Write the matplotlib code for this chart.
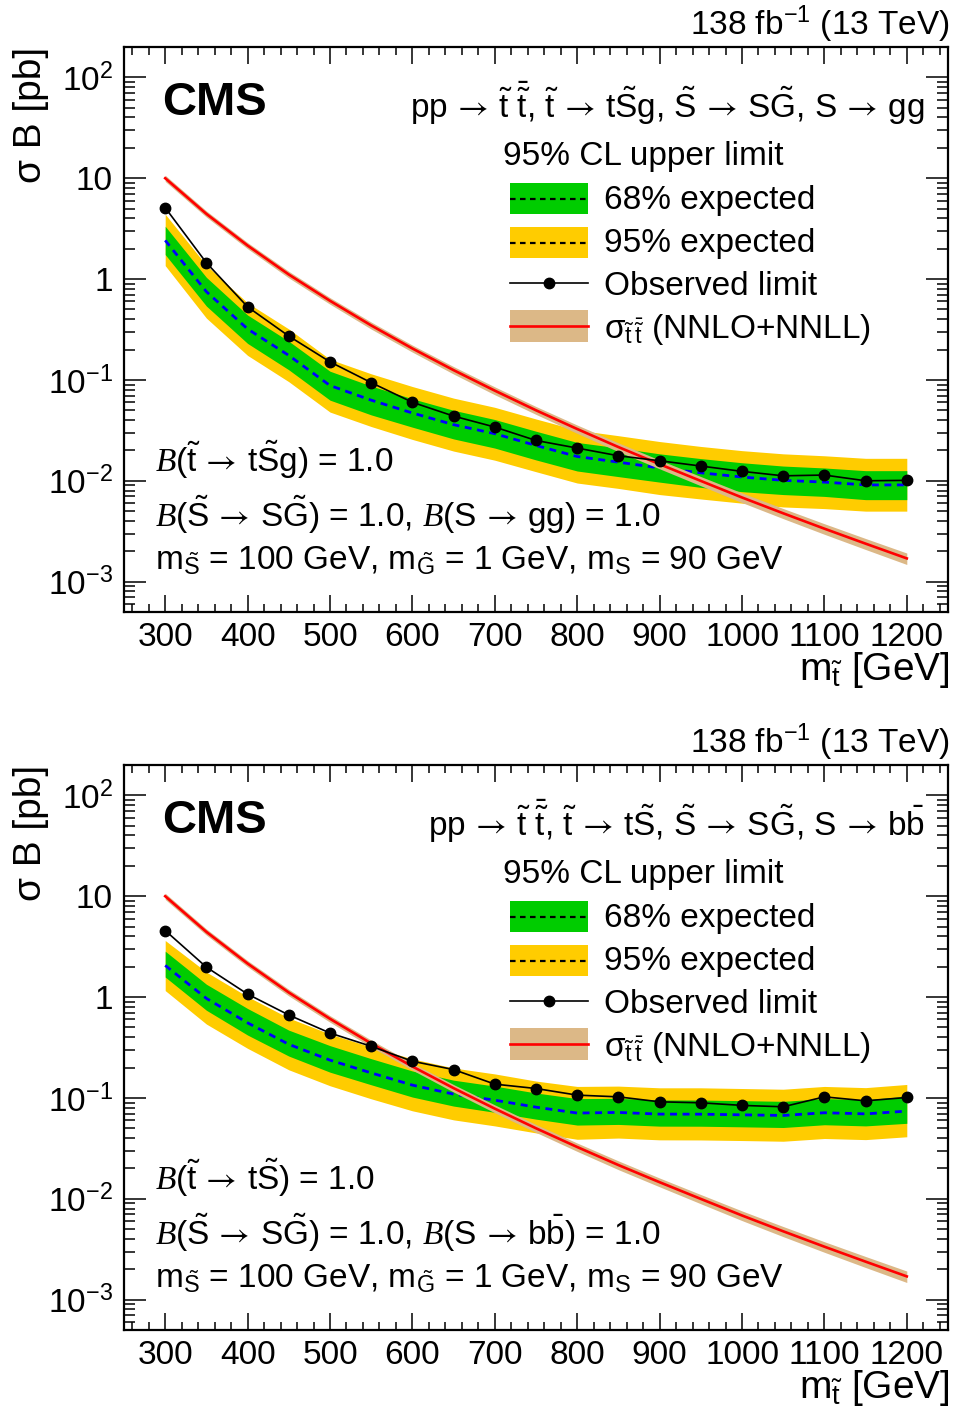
import numpy as np
import matplotlib
matplotlib.use('Agg')
import matplotlib.pyplot as plt
from matplotlib.patches import Rectangle
from matplotlib.lines import Line2D
from matplotlib.ticker import LogLocator, MultipleLocator, FuncFormatter, NullFormatter

plt.rcParams['font.family'] = ['Liberation Sans', 'DejaVu Sans']
plt.rcParams['mathtext.fontset'] = 'custom'
plt.rcParams['mathtext.rm'] = 'Liberation Sans'
plt.rcParams['mathtext.it'] = 'Liberation Sans:italic'
plt.rcParams['mathtext.bf'] = 'Liberation Sans:bold'
plt.rcParams['mathtext.sf'] = 'STIXGeneral'
plt.rcParams['mathtext.cal'] = 'Liberation Serif:italic'

# ---------------- data ----------------
masses = [300, 350, 400, 450, 500, 550, 600, 650, 700, 750,
          800, 850, 900, 950, 1000, 1050, 1100, 1150, 1200]

# theory stop-pair cross section (pb) and relative uncertainty
xsec = [10.0, 4.43, 2.15, 1.11, 0.609, 0.347, 0.205, 0.125, 0.0783, 0.0500,
        0.0326, 0.0216, 0.0146, 0.00997, 0.00683, 0.00476, 0.00335, 0.00238, 0.00170]
xsec_unc = [0.07, 0.07, 0.07, 0.075, 0.075, 0.08, 0.08, 0.085, 0.09, 0.09,
            0.095, 0.10, 0.10, 0.105, 0.11, 0.115, 0.12, 0.125, 0.13]

# top panel: S -> gg
gg_obs = [5.1, 1.45, 0.53, 0.272, 0.151, 0.094, 0.060, 0.0438, 0.0341, 0.0251,
          0.0211, 0.0177, 0.0158, 0.0140, 0.0124, 0.0112, 0.0114, 0.0100, 0.0101]
gg_exp = [2.42, 0.75, 0.32, 0.175, 0.088, 0.063, 0.047, 0.036, 0.0293, 0.0224,
          0.0174, 0.0153, 0.0134, 0.0120, 0.0109, 0.0101, 0.0097, 0.0091, 0.0091]
gg_p1 = [3.34, 1.04, 0.44, 0.242, 0.122, 0.087, 0.065, 0.050, 0.0405, 0.031,
         0.024, 0.0212, 0.0185, 0.0166, 0.0151, 0.0140, 0.0134, 0.0126, 0.0126]
gg_m1 = [1.75, 0.54, 0.23, 0.126, 0.063, 0.045, 0.034, 0.026, 0.0211, 0.0161,
         0.0125, 0.0110, 0.0097, 0.0086, 0.0078, 0.0073, 0.0070, 0.0065, 0.0065]
gg_p2 = [4.40, 1.37, 0.58, 0.32, 0.160, 0.115, 0.086, 0.066, 0.0535, 0.041,
         0.0318, 0.028, 0.0245, 0.0219, 0.0199, 0.0185, 0.0177, 0.0167, 0.0167]
gg_m2 = [1.36, 0.41, 0.175, 0.096, 0.048, 0.0345, 0.0257, 0.0197, 0.016, 0.0123,
         0.0095, 0.0084, 0.0073, 0.0066, 0.0060, 0.0055, 0.0053, 0.0050, 0.0050]

# bottom panel: S -> bb
bb_obs = [4.57, 1.98, 1.07, 0.664, 0.44, 0.325, 0.231, 0.191, 0.137, 0.124,
          0.1066, 0.1025, 0.0915, 0.0895, 0.0843, 0.0817, 0.1025, 0.0936, 0.101]
bb_exp = [2.06, 0.97, 0.555, 0.34, 0.237, 0.177, 0.134, 0.109, 0.095, 0.081,
          0.0708, 0.0718, 0.0691, 0.069, 0.068, 0.067, 0.0713, 0.0695, 0.074]
bb_p1 = [2.85, 1.34, 0.77, 0.47, 0.33, 0.245, 0.185, 0.150, 0.131, 0.112,
         0.0985, 0.099, 0.0955, 0.0953, 0.094, 0.0925, 0.0985, 0.096, 0.104]
bb_m1 = [1.58, 0.74, 0.42, 0.26, 0.18, 0.135, 0.102, 0.083, 0.072, 0.0616,
         0.0538, 0.0546, 0.0525, 0.0524, 0.0517, 0.0509, 0.0542, 0.0528, 0.056]
bb_p2 = [3.64, 1.77, 1.01, 0.62, 0.43, 0.32, 0.244, 0.198, 0.173, 0.147,
         0.130, 0.131, 0.126, 0.126, 0.124, 0.122, 0.130, 0.1265, 0.136]
bb_m2 = [1.16, 0.54, 0.31, 0.19, 0.132, 0.098, 0.0745, 0.0606, 0.0528, 0.045,
         0.0389, 0.040, 0.0384, 0.0383, 0.0378, 0.0372, 0.0396, 0.0386, 0.0412]

xticks = [300, 400, 500, 600, 700, 800, 900, 1000, 1100, 1200]

A = r'$\,\mathsf{\rightarrow}\,$'
TT = r'$\tilde{\mathrm{t}}$'
TTB = r'$\bar{\tilde{\mathrm{t}}}$'
SS = r'$\tilde{\mathrm{S}}$'
GG = r'$\tilde{\mathrm{G}}$'
BB = r'$\bar{\mathrm{b}}$'
CB = r'$\mathcal{B}$'

lumi_text = '138 fb$^{-1}$ (13 TeV)'
proc_gg = f'pp{A}{TT} {TTB}, {TT}{A}t{SS}g, {SS}{A}S{GG}, S{A}gg'
proc_bb = f'pp{A}{TT} {TTB}, {TT}{A}t{SS}, {SS}{A}S{GG}, S{A}b{BB}'
br1_gg = f'{CB}({TT}{A}t{SS}g) = 1.0'
br1_bb = f'{CB}({TT}{A}t{SS}) = 1.0'
br2_gg = f'{CB}({SS}{A}S{GG}) = 1.0, {CB}(S{A}gg) = 1.0'
br2_bb = f'{CB}({SS}{A}S{GG}) = 1.0, {CB}(S{A}b{BB}) = 1.0'
mass_text = r'm$_{\tilde{\mathrm{S}}}$ = 100 GeV, m$_{\tilde{\mathrm{G}}}$ = 1 GeV, m$_{\mathrm{S}}$ = 90 GeV'
leg_labels = ['68% expected', '95% expected', 'Observed limit',
              r'σ$_{\tilde{\mathrm{t}}\,\bar{\tilde{\mathrm{t}}}}$ (NNLO+NNLL)']
leg_header = '95% CL upper limit'

# ---------------- style ----------------
C_GREEN = '#00cc00'
C_YELLOW = '#ffcc00'
C_TAN = '#dcb887'
C_RED = '#ff0000'
C_BLUE = '#0000ff'

W, H = 956, 1415
fig = plt.figure(figsize=(W / 100, H / 100), dpi=100)


def T(px, py, s, **kw):
    return fig.text(px / W, 1 - py / H, s, **kw)


def yfmt(v, pos):
    e = int(round(np.log10(v)))
    if e == 0:
        return '1'
    if e == 1:
        return '10'
    return r'10$^{%d}$' % e


panels = [
    dict(obs=gg_obs, exp=gg_exp, p1=gg_p1, m1=gg_m1, p2=gg_p2, m2=gg_m2,
         proc=proc_gg, br1=br1_gg, br2=br2_gg),
    dict(obs=bb_obs, exp=bb_exp, p1=bb_p1, m1=bb_m1, p2=bb_p2, m2=bb_m2,
         proc=proc_bb, br1=br1_bb, br2=br2_bb),
]

m = np.array(masses)
xs = np.array(xsec)
xu = np.array(xsec_unc)

for i, p in enumerate(panels):
    dy = 0 if i == 0 else 718
    ax = fig.add_axes([124 / W, 1 - (612 + dy) / H, 824 / W, 565 / H])
    ax.set_yscale('log')
    ax.set_xlim(250, 1250)
    ax.set_ylim(5e-4, 200)

    ax.fill_between(m, p['m2'], p['p2'], color=C_YELLOW, lw=0, zorder=1)
    ax.fill_between(m, p['m1'], p['p1'], color=C_GREEN, lw=0, zorder=2)
    ax.plot(m, p['exp'], color=C_BLUE, lw=2.0, ls=(0, (2.5, 2.0)), zorder=3)
    ax.fill_between(m, xs * (1 - xu), xs * (1 + xu), color=C_TAN, lw=0, zorder=4)
    ax.plot(m, xs, color=C_RED, lw=1.9, zorder=5)
    ax.plot(m, p['obs'], color='black', lw=1.2, marker='o', ms=7.5, zorder=6)

    ax.set_xticks(xticks)
    ax.xaxis.set_minor_locator(MultipleLocator(20))
    ax.yaxis.set_major_locator(LogLocator(base=10, numticks=20))
    ax.yaxis.set_minor_locator(LogLocator(base=10, subs=np.arange(2, 10), numticks=20))
    ax.yaxis.set_major_formatter(FuncFormatter(yfmt))
    ax.yaxis.set_minor_formatter(NullFormatter())
    ax.tick_params(which='both', direction='in', top=True, right=True, width=1.1,
                   labelsize=24)
    ax.tick_params(axis='x', which='major', length=12, pad=7)
    ax.tick_params(axis='x', which='minor', length=6)
    ax.tick_params(axis='y', which='major', length=16, pad=8)
    ax.tick_params(axis='y', which='minor', length=8)
    for s in ax.spines.values():
        s.set_linewidth(1.6)

    # texts
    T(950, 35 + dy, lumi_text, ha='right', va='baseline', fontsize=24)
    T(162, 115 + dy, 'CMS', ha='left', va='baseline', fontsize=34, fontweight='bold')
    T(925, 118 + dy, p['proc'], ha='right', va='baseline', fontsize=24)
    T(155, 472 + dy, p['br1'], ha='left', va='baseline', fontsize=24)
    T(155, 527 + dy, p['br2'], ha='left', va='baseline', fontsize=24)
    T(155, 570 + dy, mass_text, ha='left', va='baseline', fontsize=24)
    T(950, 680 + dy, r'm$_{\tilde{\mathrm{t}}}$ [GeV]', ha='right', va='baseline', fontsize=28)
    T(31, 47 + dy, 'σ B [pb]', ha='center', va='top', rotation=90, fontsize=28)

    # legend
    T(503, 165 + dy, leg_header, ha='left', va='baseline', fontsize=24)
    bx0, bw = 510, 78
    boxes = [(183, 214, C_GREEN), (227, 258, C_YELLOW)]
    for (y0, y1, c) in boxes:
        fig.add_artist(Rectangle((bx0 / W, 1 - (y1 + dy) / H), bw / W, (y1 - y0) / H,
                                 transform=fig.transFigure, facecolor=c, edgecolor='none'))
        yc = 1 - ((y0 + y1) / 2 + dy) / H
        fig.add_artist(Line2D([bx0 / W, (bx0 + bw) / W], [yc, yc], transform=fig.transFigure,
                              color='black', lw=1.6, ls=(0, (2.5, 2.0))))
    yo = 1 - (283 + dy) / H
    fig.add_artist(Line2D([bx0 / W, (bx0 + bw) / W], [yo, yo], transform=fig.transFigure,
                          color='black', lw=1.2))
    fig.add_artist(Line2D([(bx0 + bw / 2) / W], [yo], transform=fig.transFigure,
                          color='black', marker='o', ms=7.5, lw=0))
    fig.add_artist(Rectangle((bx0 / W, 1 - (342 + dy) / H), bw / W, 32 / H,
                             transform=fig.transFigure, facecolor=C_TAN, edgecolor='none'))
    yt = 1 - (326 + dy) / H
    fig.add_artist(Line2D([bx0 / W, (bx0 + bw) / W], [yt, yt], transform=fig.transFigure,
                          color=C_RED, lw=1.9))
    for lbl, yb in zip(leg_labels, [209, 252, 295, 338]):
        T(604, yb + dy, lbl, ha='left', va='baseline', fontsize=24)

fig.savefig('out.png', dpi=100)
